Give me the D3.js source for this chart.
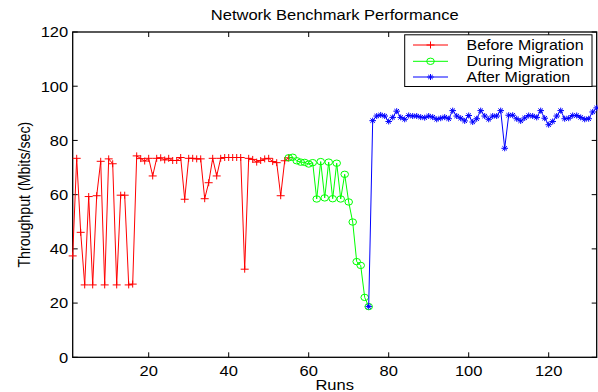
<!DOCTYPE html>
<html><head><meta charset="utf-8">
<script src="https://cdn.jsdelivr.net/npm/d3@7"></script>
<style>
html,body{margin:0;padding:0;background:#fff;}
svg{display:block;}
text{font-family:"Liberation Sans",Arial,Helvetica,sans-serif;fill:#000;}
</style></head>
<body>
<svg id="chart" width="598" height="392"></svg>
<script>
// ---- data ----
const title = "Network Benchmark Performance";
const xLabel = "Runs";
const yLabel = "Throughput (Mbits/sec)";
const xTicks = [20, 40, 60, 80, 100, 120];
const yTicks = [0, 20, 40, 60, 80, 100, 120];
const seriesNames = ["Before Migration", "During Migration", "After Migration"];

const beforeStart = 1;
const beforeValues = [37.4, 73.4, 46.1, 26.7, 59.3, 26.7, 59.6, 72.3, 26.7, 73.2,
  71.4, 26.7, 59.8, 59.8, 26.7, 27.0, 74.3, 73.3, 72.4, 73.4,
  66.9, 73.4, 73.6, 72.8, 73.4, 72.6, 72.6, 73.7, 58.3, 73.4,
  73.4, 73.2, 73.2, 58.5, 64.4, 73.4, 66.9, 73.4, 73.7, 73.7,
  73.7, 73.7, 73.7, 32.5, 73.4, 73.0, 72.0, 72.6, 73.2, 73.4,
  72.2, 71.8, 59.6, 72.5, 73.6];

const duringStart = 55;
const duringValues = [73.6, 73.8, 72.5, 72.0, 71.9, 71.3, 71.8, 58.4, 72.2, 58.8,
  72.0, 58.5, 71.6, 58.4, 67.5, 57.3, 49.9, 35.3, 33.9, 22.1, 18.7];

const afterStart = 75;
const afterValues = [18.7, 87.3, 89.0, 89.4, 89.0, 87.0, 88.5, 90.8, 88.5, 87.8,
  89.2, 89.0, 89.0, 88.6, 88.4, 89.0, 88.6, 87.8, 88.2, 88.6,
  88.0, 91.0, 89.0, 88.2, 87.2, 89.2, 86.8, 88.0, 91.0, 89.0,
  87.8, 89.0, 89.0, 91.0, 77.1, 89.3, 89.3, 88.0, 87.2, 88.3,
  89.2, 89.0, 88.5, 91.0, 88.2, 85.8, 87.0, 89.0, 91.0, 88.0,
  88.2, 89.2, 89.2, 88.5, 87.8, 88.0, 90.5, 92.0];

// ---- layout ----
const mLeft = 72.7, mRight = 596.7, mTop = 32, mBottom = 357.3;
const SX = 1.14;   // horizontal text stretch of the reference
const FS = 14.5;

const svg = d3.select("#chart");
const x = d3.scaleLinear().domain([1, 132]).range([mLeft, mRight]);
const y = d3.scaleLinear().domain([0, 120]).range([mBottom, mTop]);

function toPts(start, vals) { return vals.map((v, i) => ({run: start + i, v})); }
const series = [
  {name: seriesNames[0], color: "#ff0000", marker: "plus", pts: toPts(beforeStart, beforeValues)},
  {name: seriesNames[1], color: "#00ff00", marker: "circle", pts: toPts(duringStart, duringValues)},
  {name: seriesNames[2], color: "#0000ff", marker: "star", pts: toPts(afterStart, afterValues)}
];

function stretchedText(g, tx, ty, str, size, anchor) {
  return g.append("text")
    .attr("transform", `translate(${tx},${ty}) scale(${SX},1)`)
    .attr("text-anchor", anchor || "middle")
    .attr("font-size", size)
    .text(str);
}

// title
stretchedText(svg, (mLeft + mRight) / 2, 19.5, title, FS);

// axes box
svg.append("rect").attr("x", mLeft).attr("y", mTop)
  .attr("width", mRight - mLeft).attr("height", mBottom - mTop)
  .attr("fill", "none").attr("stroke", "#000").attr("stroke-width", 1.3);

const tickLen = 5;
const ax = svg.append("g").attr("stroke", "#000").attr("stroke-width", 1);
xTicks.forEach(t => {
  ax.append("line").attr("x1", x(t)).attr("x2", x(t)).attr("y1", mBottom).attr("y2", mBottom - tickLen);
  ax.append("line").attr("x1", x(t)).attr("x2", x(t)).attr("y1", mTop).attr("y2", mTop + tickLen);
});
yTicks.forEach(t => {
  ax.append("line").attr("x1", mLeft).attr("x2", mLeft + tickLen).attr("y1", y(t)).attr("y2", y(t));
  ax.append("line").attr("x1", mRight).attr("x2", mRight - tickLen).attr("y1", y(t)).attr("y2", y(t));
});

const labels = svg.append("g");
xTicks.forEach(t => stretchedText(labels, x(t), 375.5, d3.format("d")(t), FS));
yTicks.forEach(t => stretchedText(labels, mLeft - 4.5, y(t) + 5.3, d3.format("d")(t), FS, "end"));

// axis titles
stretchedText(svg, (mLeft + mRight) / 2, 390, xLabel, FS);
svg.append("text")
  .attr("transform", `translate(29.5,${(mTop + mBottom) / 2}) scale(${SX},1) rotate(-90)`)
  .attr("text-anchor", "middle").attr("font-size", 14.2).text(yLabel);

// data lines and markers
const line = d3.line().x(d => x(d.run)).y(d => y(d.v));
const plot = svg.append("g");

function drawMarker(g, m, cx, cy, color) {
  if (m === "plus") {
    g.append("path").attr("d", `M${cx - 4},${cy}H${cx + 4}M${cx},${cy - 3.5}V${cy + 3.5}`)
      .attr("stroke", color).attr("stroke-width", 1).attr("fill", "none");
  } else if (m === "circle") {
    g.append("ellipse").attr("cx", cx).attr("cy", cy).attr("rx", 3.8).attr("ry", 3.2)
      .attr("stroke", color).attr("stroke-width", 1).attr("fill", "none");
  } else {
    const r = 3, rx = 3.3;
    g.append("path").attr("d",
      `M${cx - rx},${cy}H${cx + rx}M${cx},${cy - r}V${cy + r}` +
      `M${cx - rx * 0.7},${cy - r * 0.7}L${cx + rx * 0.7},${cy + r * 0.7}` +
      `M${cx - rx * 0.7},${cy + r * 0.7}L${cx + rx * 0.7},${cy - r * 0.7}`)
      .attr("stroke", color).attr("stroke-width", 1).attr("fill", "none");
  }
}

series.forEach(s => {
  plot.append("path").datum(s.pts).attr("d", line)
    .attr("fill", "none").attr("stroke", s.color).attr("stroke-width", 1);
  const mg = plot.append("g");
  s.pts.forEach(p => drawMarker(mg, s.marker, x(p.run), y(p.v), s.color));
});

// legend
const lg = svg.append("g");
lg.append("rect").attr("x", 404.7).attr("y", 34.8).attr("width", 592 - 404.7).attr("height", 86.5 - 34.8)
  .attr("fill", "#fff").attr("stroke", "#000").attr("stroke-width", 1);
const rowsY = [45, 61.3, 77];
series.forEach((s, i) => {
  const ry = rowsY[i];
  lg.append("line").attr("x1", 413).attr("x2", 448).attr("y1", ry).attr("y2", ry)
    .attr("stroke", s.color).attr("stroke-width", 1);
  drawMarker(lg, s.marker, 430.5, ry, s.color);
  stretchedText(lg, 466.5, ry + 5, s.name, 14, "start");
});
</script>
</body></html>
